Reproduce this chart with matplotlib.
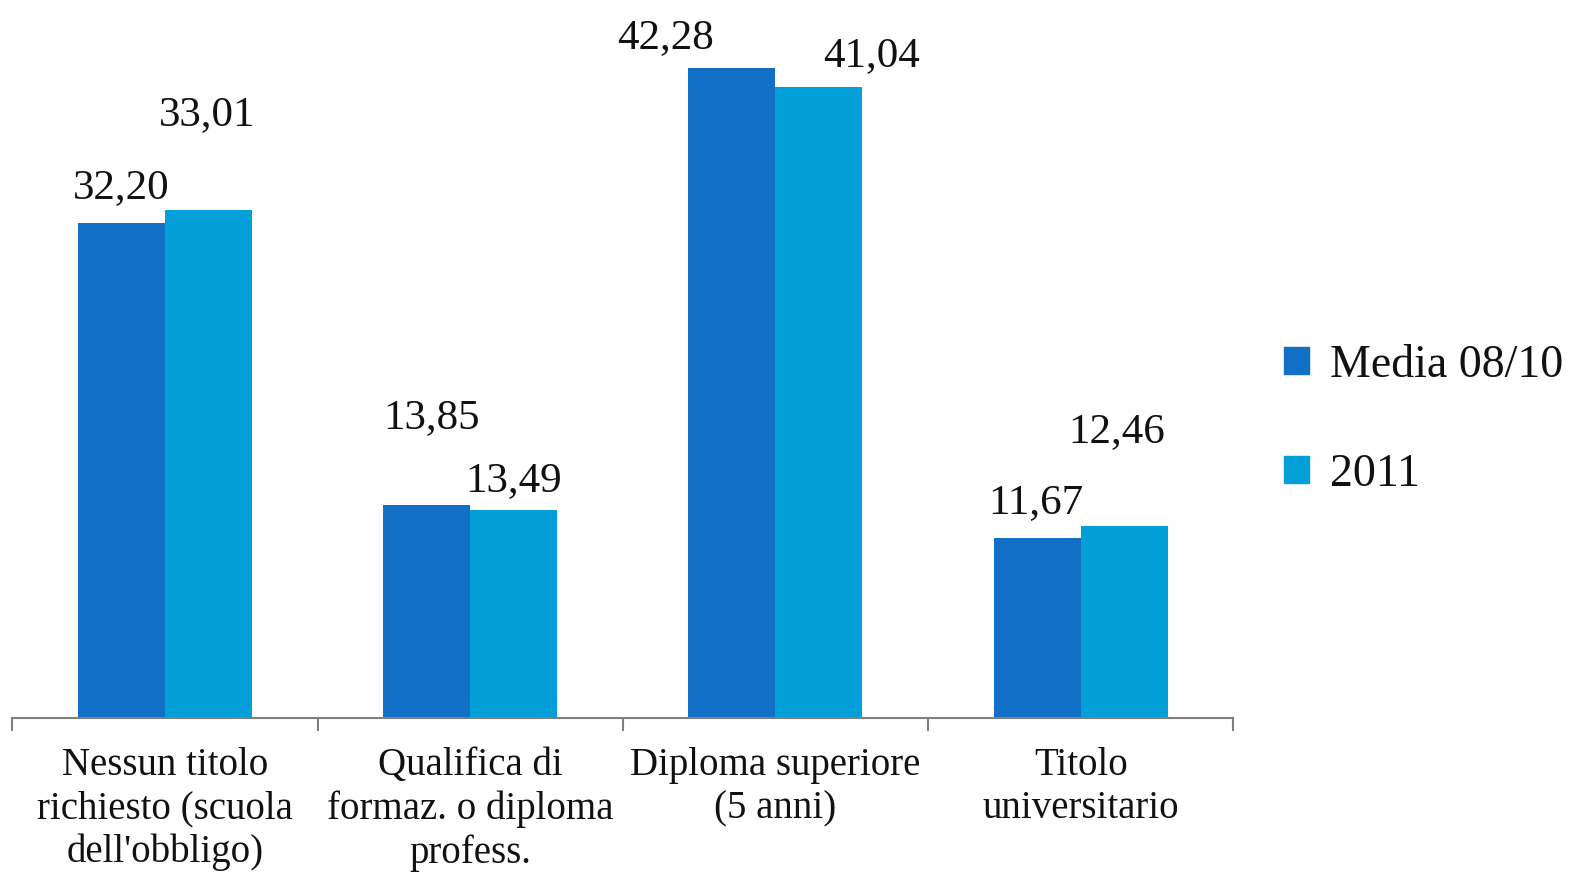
import numpy as np
import matplotlib.pyplot as plt
from matplotlib.patches import Patch

categories = ["Nessun titolo\nrichiesto (scuola\ndell'obbligo)",
              "Qualifica di\nformaz. o diploma\nprofess.",
              "Diploma superiore\n(5 anni)",
              "Titolo\nuniversitario"]
media_0810 = [32.20, 13.85, 42.28, 11.67]
anno_2011 = [33.01, 13.49, 41.04, 12.46]
series_names = ["Media 08/10", "2011"]

# label offsets (pixels) from the top centre of each bar, as placed in the original
off_media = [(0, 16), (5, 68), (-66, 11), (-1, 16)]
off_2011 = [(-1, 76), (0, 10), (53, 12), (-8, 75)]

plt.rcParams["font.family"] = ["Liberation Serif", "DejaVu Serif"]
dark = "#126fc6"
light = "#039fd9"

fig = plt.figure(figsize=(15.85, 8.75), dpi=100, facecolor="white")
ax = fig.add_axes([0.0077, 0.1798, 0.7705, 0.8202])
ax.set_facecolor("none")

x = np.arange(len(categories))
w = 0.285
b1 = ax.bar(x - w / 2, media_0810, w, color=dark, linewidth=0)
b2 = ax.bar(x + w / 2, anno_2011, w, color=light, linewidth=0)

def lab(bars, vals, offs):
    for r, v, (dx, dy) in zip(bars, vals, offs):
        ax.annotate(f"{v:.2f}".replace(".", ","),
                    (r.get_x() + r.get_width() / 2, r.get_height()),
                    xytext=(dx, dy), textcoords="offset pixels",
                    ha="center", va="bottom", fontsize=31, color="#111111")

lab(b1, media_0810, off_media)
lab(b2, anno_2011, off_2011)

ax.set_xlim(-0.5, len(categories) - 0.5)
ax.set_ylim(0, 46.7)
ax.set_yticks([])
for s in ["left", "right", "top"]:
    ax.spines[s].set_visible(False)
ax.spines["bottom"].set_color("#7f7f7f")
ax.spines["bottom"].set_linewidth(1.5)

ax.set_xticks(x)
ax.set_xticklabels(categories, fontsize=28, linespacing=1.22, color="#111111")
ax.tick_params(axis="x", which="major", length=0, pad=21)
ax.set_xticks(np.arange(-0.5, len(categories)), minor=True)
ax.tick_params(axis="x", which="minor", length=9, width=1.5, color="#7f7f7f")

handles = [Patch(color=dark), Patch(color=light)]
fig.legend(handles, series_names, loc="center left", bbox_to_anchor=(0.784, 0.52),
           frameon=False, fontsize=33, handlelength=0.55, handleheight=0.55,
           handletextpad=0.45, labelspacing=1.45, labelcolor="#111111")

fig.savefig("out.png", dpi=100, facecolor="white")
